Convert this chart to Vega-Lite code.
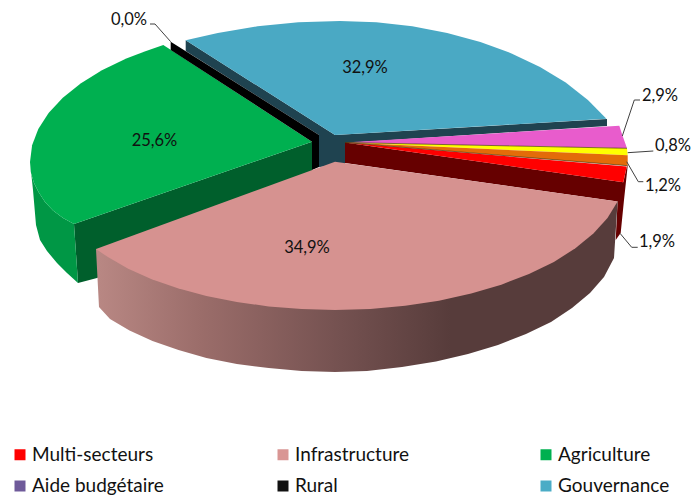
{"$schema":"https://vega.github.io/schema/vega-lite/v6.json","width":691,"height":495,"padding":0,"autosize":{"type":"none"},"background":"white","view":{"stroke":null},
"datasets":{
"slices":[
{"sector":"Multi-secteurs","share":1.9,"label":"1,9%","lx":657,"ly":242},
{"sector":null,"share":1.2,"label":"1,2%","lx":663,"ly":186},
{"sector":null,"share":0.8,"label":"0,8%","lx":673,"ly":146},
{"sector":null,"share":2.9,"label":"2,9%","lx":660,"ly":96},
{"sector":"Infrastructure","share":34.9,"label":"34,9%","lx":307,"ly":248},
{"sector":"Agriculture","share":25.6,"label":"25,6%","lx":154.5,"ly":141},
{"sector":"Rural","share":0.0,"label":"0,0%","lx":129,"ly":19.5},
{"sector":"Gouvernance","share":32.9,"label":"32,9%","lx":365,"ly":68}],
"leaders":[
{"l":"a","n":0,"x":622.3,"y":136},{"l":"a","n":1,"x":634.3,"y":100},{"l":"a","n":2,"x":640,"y":100},
{"l":"b","n":0,"x":627.7,"y":152.7},{"l":"b","n":1,"x":653.3,"y":151},
{"l":"c","n":0,"x":626.7,"y":161.7},{"l":"c","n":1,"x":638.3,"y":181.7},{"l":"c","n":2,"x":643.3,"y":181.7},
{"l":"d","n":0,"x":620,"y":233.3},{"l":"d","n":1,"x":631.7,"y":247.3},{"l":"d","n":2,"x":637.7,"y":247.3},
{"l":"e","n":0,"x":170.7,"y":41.7},{"l":"e","n":1,"x":155,"y":24},{"l":"e","n":2,"x":150,"y":24}],
"edges":[
{"l":"f","n":0,"x":345,"y":142.5},{"l":"f","n":1,"x":627,"y":148.3},
{"l":"g","n":0,"x":345,"y":142.5},{"l":"g","n":1,"x":627.7,"y":165.7}],
"faces":[
{"p":"tealWall","n":0,"x":185.7,"y":40.3},{"p":"tealWall","n":1,"x":335,"y":135},{"p":"tealWall","n":2,"x":607,"y":119},{"p":"tealWall","n":3,"x":607,"y":126},{"p":"tealWall","n":4,"x":345,"y":143},{"p":"tealWall","n":5,"x":345,"y":165},{"p":"tealWall","n":6,"x":319,"y":167},{"p":"tealWall","n":7,"x":319,"y":135},{"p":"tealWall","n":8,"x":185.7,"y":51},
{"p":"tealTop","n":0,"x":335,"y":135},{"p":"tealTop","n":1,"x":606.4,"y":118.8},{"p":"tealTop","n":2,"x":587.9,"y":99.9},{"p":"tealTop","n":3,"x":565.7,"y":82.6},{"p":"tealTop","n":4,"x":540,"y":67},{"p":"tealTop","n":5,"x":511.5,"y":53.4},{"p":"tealTop","n":6,"x":480.4,"y":42},{"p":"tealTop","n":7,"x":447.2,"y":32.9},{"p":"tealTop","n":8,"x":412.3,"y":26.3},{"p":"tealTop","n":9,"x":376.4,"y":22.3},{"p":"tealTop","n":10,"x":340,"y":21},{"p":"tealTop","n":11,"x":298.4,"y":22.3},{"p":"tealTop","n":12,"x":257.5,"y":26.3},{"p":"tealTop","n":13,"x":217.8,"y":32.9},{"p":"tealTop","n":14,"x":185.7,"y":40.3},
{"p":"greenDark","n":0,"x":74,"y":224},{"p":"greenDark","n":1,"x":312,"y":141.7},{"p":"greenDark","n":2,"x":312,"y":172},{"p":"greenDark","n":3,"x":97,"y":278},{"p":"greenDark","n":4,"x":78,"y":283},
{"p":"greenWall","n":0,"x":30,"y":162},{"p":"greenWall","n":1,"x":33,"y":190},{"p":"greenWall","n":2,"x":36,"y":225},{"p":"greenWall","n":3,"x":40,"y":240},{"p":"greenWall","n":4,"x":47,"y":251},{"p":"greenWall","n":5,"x":57,"y":263},{"p":"greenWall","n":6,"x":67,"y":273},{"p":"greenWall","n":7,"x":78,"y":283},{"p":"greenWall","n":8,"x":74,"y":224},{"p":"greenWall","n":9,"x":63,"y":218},{"p":"greenWall","n":10,"x":53,"y":210.5},{"p":"greenWall","n":11,"x":45,"y":202},{"p":"greenWall","n":12,"x":38.5,"y":192},{"p":"greenWall","n":13,"x":34,"y":183},{"p":"greenWall","n":14,"x":31,"y":173},
{"p":"greenTop","n":0,"x":312,"y":141.7},{"p":"greenTop","n":1,"x":163.3,"y":45},{"p":"greenTop","n":2,"x":145.4,"y":51.2},{"p":"greenTop","n":3,"x":126.3,"y":58.6},{"p":"greenTop","n":4,"x":101.9,"y":70.3},{"p":"greenTop","n":5,"x":80.6,"y":83.4},{"p":"greenTop","n":6,"x":62.8,"y":97.7},{"p":"greenTop","n":7,"x":48.6,"y":112.9},{"p":"greenTop","n":8,"x":38.3,"y":128.9},{"p":"greenTop","n":9,"x":32.1,"y":145.3},{"p":"greenTop","n":10,"x":30,"y":162},{"p":"greenTop","n":11,"x":31,"y":173},{"p":"greenTop","n":12,"x":34,"y":183},{"p":"greenTop","n":13,"x":38.5,"y":192},{"p":"greenTop","n":14,"x":45,"y":202},{"p":"greenTop","n":15,"x":53,"y":210.5},{"p":"greenTop","n":16,"x":63,"y":218},{"p":"greenTop","n":17,"x":74,"y":224},
{"p":"black","n":0,"x":170.7,"y":41.7},{"p":"black","n":1,"x":319,"y":135},{"p":"black","n":2,"x":319,"y":167},{"p":"black","n":3,"x":312,"y":170},{"p":"black","n":4,"x":312,"y":141.7},{"p":"black","n":5,"x":170.7,"y":50},
{"p":"redDark","n":0,"x":345,"y":142.5},{"p":"redDark","n":1,"x":623.3,"y":182.3},{"p":"redDark","n":2,"x":626.7,"y":167},{"p":"redDark","n":3,"x":627.7,"y":165.7},{"p":"redDark","n":4,"x":624,"y":200},{"p":"redDark","n":5,"x":620.7,"y":233},{"p":"redDark","n":6,"x":615.7,"y":240},{"p":"redDark","n":7,"x":617.6,"y":201.5},{"p":"redDark","n":8,"x":345,"y":163},
{"p":"magenta","n":0,"x":345,"y":142.5},{"p":"magenta","n":1,"x":619.3,"y":125.7},{"p":"magenta","n":2,"x":622.3,"y":135},{"p":"magenta","n":3,"x":627,"y":148.3},
{"p":"yellow","n":0,"x":345,"y":142.5},{"p":"yellow","n":1,"x":627,"y":148.3},{"p":"yellow","n":2,"x":627.7,"y":155.3},
{"p":"orange","n":0,"x":345,"y":142.5},{"p":"orange","n":1,"x":627.7,"y":155.3},{"p":"orange","n":2,"x":627.7,"y":165.7},
{"p":"red","n":0,"x":345,"y":142.5},{"p":"red","n":1,"x":626.7,"y":166.5},{"p":"red","n":2,"x":623.3,"y":182.3},
{"p":"infraWall","n":0,"x":96,"y":249},{"p":"infraWall","n":1,"x":99,"y":307},{"p":"infraWall","n":2,"x":110,"y":319},{"p":"infraWall","n":3,"x":129.5,"y":330.5},{"p":"infraWall","n":4,"x":152.5,"y":341},{"p":"infraWall","n":5,"x":178.5,"y":350},{"p":"infraWall","n":6,"x":206.4,"y":358},{"p":"infraWall","n":7,"x":236.8,"y":364},{"p":"infraWall","n":8,"x":268.7,"y":368},{"p":"infraWall","n":9,"x":301.6,"y":371},{"p":"infraWall","n":10,"x":335,"y":372},{"p":"infraWall","n":11,"x":367,"y":371},{"p":"infraWall","n":12,"x":402,"y":367},{"p":"infraWall","n":13,"x":436,"y":361.5},{"p":"infraWall","n":14,"x":468,"y":354},{"p":"infraWall","n":15,"x":498,"y":345},{"p":"infraWall","n":16,"x":526,"y":334},{"p":"infraWall","n":17,"x":551,"y":322},{"p":"infraWall","n":18,"x":572,"y":308},{"p":"infraWall","n":19,"x":590,"y":293},{"p":"infraWall","n":20,"x":604,"y":277},{"p":"infraWall","n":21,"x":614,"y":258},{"p":"infraWall","n":22,"x":617.6,"y":201.5},{"p":"infraWall","n":23,"x":335,"y":250},{"p":"infraWall","n":24,"x":96,"y":249},
{"p":"infraTop","n":0,"x":335,"y":161.7},{"p":"infraTop","n":1,"x":617.6,"y":201.5},{"p":"infraTop","n":2,"x":607.5,"y":217.9},{"p":"infraTop","n":3,"x":593.4,"y":233.6},{"p":"infraTop","n":4,"x":575.4,"y":248.3},{"p":"infraTop","n":5,"x":553.9,"y":261.9},{"p":"infraTop","n":6,"x":529,"y":274},{"p":"infraTop","n":7,"x":501.3,"y":284.7},{"p":"infraTop","n":8,"x":471.2,"y":293.6},{"p":"infraTop","n":9,"x":438.9,"y":300.7},{"p":"infraTop","n":10,"x":405.2,"y":305.8},{"p":"infraTop","n":11,"x":370.3,"y":309},{"p":"infraTop","n":12,"x":335,"y":310},{"p":"infraTop","n":13,"x":301.6,"y":309.1},{"p":"infraTop","n":14,"x":268.7,"y":306.4},{"p":"infraTop","n":15,"x":236.8,"y":302},{"p":"infraTop","n":16,"x":206.4,"y":296},{"p":"infraTop","n":17,"x":177.8,"y":288.3},{"p":"infraTop","n":18,"x":151.7,"y":279.2},{"p":"infraTop","n":19,"x":128.2,"y":268.7},{"p":"infraTop","n":20,"x":107.9,"y":257.1},{"p":"infraTop","n":21,"x":96,"y":249}
]},
"encoding":{"x":{"field":"x","type":"quantitative","scale":{"domain":[0,691]},"axis":null},"y":{"field":"y","type":"quantitative","scale":{"domain":[495,0]},"axis":null}},
"layer":[
{"data":{"name":"faces"},"transform":[{"filter":"datum.p!=='infraWall'&&datum.p!=='infraTop'"}],"mark":{"type":"line","strokeWidth":0},
 "encoding":{"order":{"field":"n","type":"quantitative"},"fill":{"field":"p","type":"nominal","legend":null,"scale":{"domain":["tealWall","tealTop","greenDark","greenWall","greenTop","black","redDark","magenta","yellow","orange","red"],"range":["#1f4350","#4aa9c4","#005f2c","#009745","#00b050","#000000","#660000","#e85ccc","#ffff00","#e36c09","#ff0000"]}}}},
{"data":{"name":"edges"},"mark":{"type":"line","stroke":"#4a3a10","strokeWidth":0.7},
 "encoding":{"order":{"field":"n","type":"quantitative"},"detail":{"field":"l","type":"nominal"}}},
{"data":{"name":"faces"},"transform":[{"filter":"datum.p==='infraWall'"}],"mark":{"type":"line","strokeWidth":0,"fill":{"gradient":"linear","x1":0,"y1":0,"x2":1,"y2":0,"stops":[{"offset":0,"color":"#b98884"},{"offset":0.2,"color":"#9b6d6a"},{"offset":0.47,"color":"#745150"},{"offset":0.68,"color":"#573c3b"},{"offset":1,"color":"#573c3b"}]}},
 "encoding":{"order":{"field":"n","type":"quantitative"}}},
{"data":{"name":"faces"},"transform":[{"filter":"datum.p==='infraTop'"}],"mark":{"type":"line","strokeWidth":0,"fill":"#d69290"},
 "encoding":{"order":{"field":"n","type":"quantitative"}}},
{"data":{"name":"leaders"},"mark":{"type":"line","stroke":"#404040","strokeWidth":1},
 "encoding":{"order":{"field":"n","type":"quantitative"},"detail":{"field":"l","type":"nominal"}}},
{"data":{"name":"slices"},"mark":{"type":"text","font":"Lato","fontSize":16.5,"fill":"#111111","baseline":"middle","align":"center"},
 "encoding":{"x":{"field":"lx","type":"quantitative"},"y":{"field":"ly","type":"quantitative"},"text":{"field":"label","type":"nominal"}}},
{"data":{"name":"slices"},"transform":[{"filter":"datum.sector"}],"mark":{"type":"square","opacity":0,"size":1},
 "encoding":{"x":{"field":"lx","type":"quantitative"},"y":{"field":"ly","type":"quantitative"},
 "color":{"field":"sector","type":"nominal","scale":{"domain":["Multi-secteurs","Infrastructure","Agriculture","Aide budgétaire","Rural","Gouvernance"],"range":["#ff0000","#d99694","#00b050","#6f5a9a","#111111","#4bacc6"]},
 "legend":{"title":null,"orient":"none","legendX":10.5,"legendY":445,"columns":3,"direction":"horizontal","gridAlign":"all","columnPadding":109,"rowPadding":11.5,"symbolType":"square","symbolSize":121,"symbolOpacity":1,"symbolStrokeWidth":0,"labelFont":"Lato","labelFontSize":19,"labelColor":"#111111","labelOffset":2.5,"labelLimit":300,"padding":0}}}}
]}
